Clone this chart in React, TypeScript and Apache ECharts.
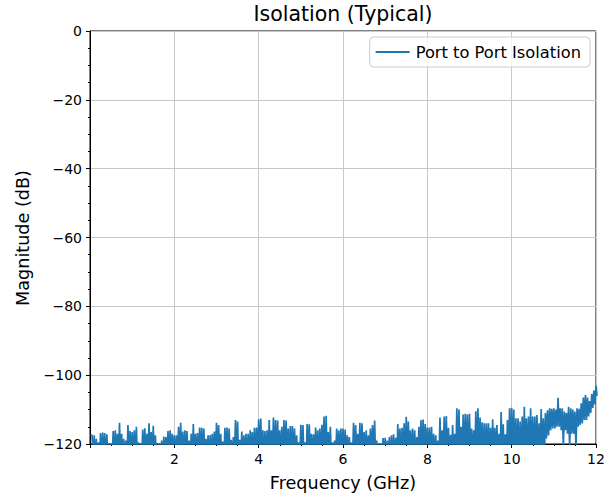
import React, { useEffect, useRef } from "react";
import * as echarts from "echarts";

// Frequency sweep (GHz): first sample, then a regular grid with half-step troughs
const START_FREQ = 0.01;
const START_DB = -117.6;
const FREQ_FIRST = 0.05;
const FREQ_STEP = 0.05;

// Upper envelope of the trace (dB), one value per 0.05 GHz
const peakDb0to2 = [-117.4, -117.5, -118.5, -119.5, -116.8, -116.7, -116.8, -117.2, -119.8, -120, -116.2, -116.0, -117, -113.8, -117, -118.5, -119, -114.5, -116.2, -116.5, -116, -115, -119.5, -119.8, -115.8, -115.4, -117, -114, -116.5, -114.7, -117.5, -119.8, -120, -119, -117.8, -118, -116.2, -116, -117, -117.5];
const peakDb2to4 = [-117.5, -115, -113.8, -116.4, -116, -116.2, -119, -117, -114.2, -117, -116.8, -115.2, -115.3, -115.5, -118.5, -117.5, -117.4, -117, -116.4, -113.8, -114.5, -117, -119.3, -115.3, -115.2, -115.5, -118.8, -118, -113, -113.5, -118.8, -116.4, -117.5, -117, -117, -116, -116.5, -115.3, -115.2, -112.8];
const peakDb4to6 = [-112.6, -116, -116.2, -116, -113, -116, -112.3, -113, -113.2, -116, -115, -113, -113.2, -115.5, -114.8, -114.8, -115.5, -117.5, -119.5, -114.4, -114.5, -119.5, -114.2, -114.3, -117, -117.2, -115.2, -116, -115.5, -114.4, -112, -111.8, -116.5, -115, -119.5, -119, -115.5, -116, -115.5, -115.5];
const peakDb6to8 = [-115.8, -117.5, -118, -119.5, -113.8, -114.5, -117, -113.8, -114, -116.5, -116, -117.5, -115.5, -114.5, -113.2, -119, -119.8, -119.9, -118.3, -118.2, -119, -118, -117.5, -117.2, -118.2, -114.2, -115.5, -115.3, -114, -112.1, -113.5, -116, -115.5, -116, -118, -115, -113, -112.9, -114.2, -115.2];
const peakDb8to10 = [-115.2, -115, -117, -117.5, -119, -112.3, -116, -112, -111.9, -115.3, -117.3, -114.5, -117, -109.6, -110, -115, -111.4, -111.2, -111.4, -111.2, -115.5, -116, -110.5, -109.6, -112.3, -113.7, -114, -114, -114, -115.3, -112.8, -115.3, -114.5, -117, -110.7, -114.3, -117.2, -113, -109.6, -109.5];
const peakDb10to12 = [-110, -112.5, -112.5, -113.5, -112, -109.2, -112.5, -112, -109.6, -112, -112, -111.6, -114, -109.8, -112.5, -111, -110.2, -109.6, -109.8, -109.6, -110, -106.6, -109.6, -109.6, -110.6, -111, -109.2, -109.6, -110, -110.6, -109.6, -109.8, -108.2, -106.5, -105.8, -106.5, -107.5, -105.5, -104.5, -103];

// Lower envelope: below the axis floor everywhere except the top band (10-12 GHz)
const FLOOR_DB = -125;
const troughDb10to12 = [-125, -125, -125, -125, -125, -125, -125, -125, -125, -125, -125, -125, -125, -125, -125, -118.4, -117.5, -116, -115.5, -115.5, -115, -115, -116, -120.5, -116, -117, -121, -117, -117, -121, -115, -114.5, -114, -113, -113, -112, -111, -109.5, -108.5, -106];

const xTicks = { min: 0, max: 12, interval: 2 };
const yTicks = { min: -120, max: 0, interval: 20 };

const seriesName = "Port to Port Isolation";
const titleText = "Isolation (Typical)";
const xLabel = "Frequency (GHz)";
const yLabel = "Magnitude (dB)";

const FONT = "'DejaVu Sans', sans-serif";

export default function App() {
  const ref = useRef<HTMLDivElement>(null);

  useEffect(() => {
    if (!ref.current) return;
    const chart = echarts.init(ref.current, undefined, { renderer: "svg" });

    const peaks = [...peakDb0to2, ...peakDb2to4, ...peakDb4to6, ...peakDb6to8, ...peakDb8to10, ...peakDb10to12];
    const tailStart = peaks.length - troughDb10to12.length;
    const data: number[][] = [[START_FREQ, START_DB]];
    peaks.forEach((p, i) => {
      const f = +(FREQ_FIRST + i * FREQ_STEP).toFixed(4);
      data.push([f, p]);
      const t = i >= tailStart ? troughDb10to12[i - tailStart] : FLOOR_DB;
      data.push([+(f + FREQ_STEP / 2).toFixed(4), t]);
    });

    const minus = (v: number) => (v < 0 ? "\u2212" + Math.abs(v) : String(v));

    chart.setOption({
      animation: false,
      backgroundColor: "#fff",
      grid: {
        left: 90,
        right: 14,
        top: 31,
        bottom: 54,
        show: true,
        borderColor: "#000",
        borderWidth: 1,
        backgroundColor: "transparent",
      },
      legend: {
        right: 20,
        top: 37,
        icon: "rect",
        itemWidth: 34,
        itemHeight: 2,
        itemGap: 10,
        padding: [7, 9, 7, 6],
        backgroundColor: "rgba(255,255,255,0.8)",
        borderColor: "#cccccc",
        borderWidth: 1,
        borderRadius: 4,
        textStyle: { fontSize: 16.3, fontFamily: FONT, color: "#000", padding: [0, 0, 0, 1] },
        data: [seriesName],
      },
      xAxis: {
        type: "value",
        min: xTicks.min,
        max: xTicks.max,
        interval: xTicks.interval,
        axisLine: { show: true, onZero: false, lineStyle: { color: "#000", width: 1 } },
        axisTick: { show: true, length: 4, lineStyle: { color: "#000" } },
        minorTick: { show: true, splitNumber: 4, length: 2, lineStyle: { color: "#000" } },
        splitLine: { show: true, lineStyle: { color: "#c8c8c8", width: 1 } },
        axisLabel: {
          fontSize: 14,
          fontFamily: FONT,
          color: "#000",
          margin: 8,
          formatter: (v: number) => (v === 0 ? "" : minus(v)),
        },
      },
      yAxis: {
        type: "value",
        min: yTicks.min,
        max: yTicks.max,
        interval: yTicks.interval,
        axisLine: { show: true, onZero: false, lineStyle: { color: "#000", width: 1 } },
        axisTick: { show: true, length: 4, lineStyle: { color: "#000" } },
        minorTick: { show: true, splitNumber: 4, length: 2, lineStyle: { color: "#000" } },
        splitLine: { show: true, lineStyle: { color: "#c8c8c8", width: 1 } },
        axisLabel: {
          fontSize: 14,
          fontFamily: FONT,
          color: "#000",
          margin: 8,
          formatter: (v: number) => minus(v),
        },
      },
      graphic: [
        {
          type: "text",
          x: 343,
          y: 14,
          style: {
            text: titleText,
            fontSize: 20.5,
            fontFamily: FONT,
            fill: "#000",
            textAlign: "center",
            textVerticalAlign: "middle",
          },
        },
        {
          type: "text",
          x: 343,
          y: 483,
          style: {
            text: xLabel,
            fontSize: 17.6,
            fontFamily: FONT,
            fill: "#000",
            textAlign: "center",
            textVerticalAlign: "middle",
          },
        },
        {
          type: "text",
          x: 23,
          y: 238,
          rotation: Math.PI / 2,
          style: {
            text: yLabel,
            fontSize: 17.6,
            fontFamily: FONT,
            fill: "#000",
            textAlign: "center",
            textVerticalAlign: "middle",
          },
        },
      ],
      series: [
        {
          name: seriesName,
          type: "line",
          data,
          symbol: "none",
          showSymbol: false,
          clip: true,
          color: "#1f77b4",
          lineStyle: { color: "#1f77b4", width: 1.7 },
        },
      ],
    });

    return () => chart.dispose();
  }, []);

  return <div ref={ref} style={{ width: 610, height: 498, position: "fixed", left: 0, top: 0 }} />;
}
